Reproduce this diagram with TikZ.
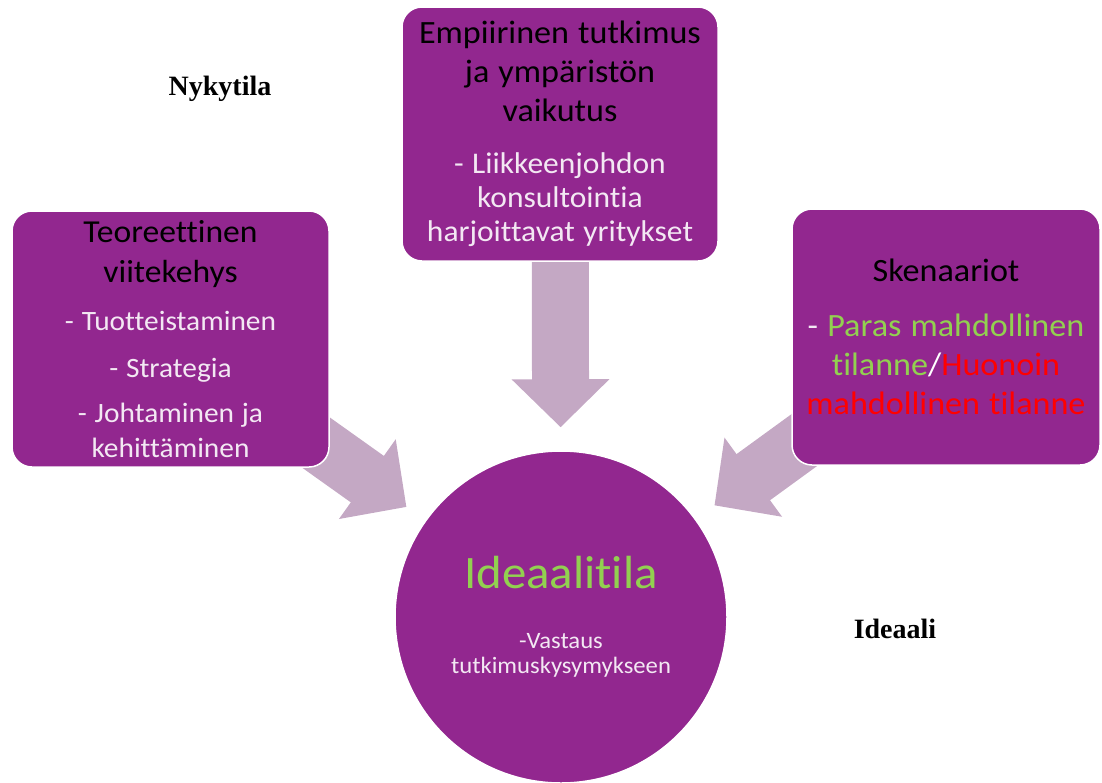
\documentclass[tikz,border=0pt]{standalone}
\usepackage{fontspec}
\setmainfont{Carlito}[FakeStretch=1.05,Ligatures=NoCommon]
\newfontfamily\notefont{Liberation Serif}
\usetikzlibrary{arrows.meta,backgrounds}
\definecolor{boxpurple}{RGB}{146,39,143}
\definecolor{arrowpink}{RGB}{196,168,196}
\definecolor{goodgreen}{RGB}{146,208,80}
\definecolor{badred}{RGB}{255,0,0}
\definecolor{paletext}{RGB}{243,232,243}
\newcommand{\fsize}[2]{\fontsize{#1}{#2}\selectfont\spaceskip=0.28em\relax}

\begin{document}
\begin{tikzpicture}[x=1pt,y=-1pt,
  box/.style={fill=boxpurple,draw=white,line width=1.5pt,rounded corners=20pt,
    align=center,inner sep=0pt,minimum height=256pt},
  fat/.style={arrowpink,line width=57pt,-{Triangle[width=95pt 0 0,length=48pt 0 0]},shorten >=23pt},
  sidenote/.style={font=\notefont\bfseries\fsize{28}{32},anchor=base}]
  \useasboundingbox (0,0) rectangle (1102,782);
  \node[box,minimum height=254pt,text width=316pt] (emp) at (560,134)
    {\fsize{32.5}{39}Empiirinen tutkimus\\ja ympäristön\\vaikutus\\[18pt]
     \color{paletext}\fsize{30}{34}- Liikkeenjohdon\\konsultointia\\harjoittavat yritykset\par};
  \node[box,text width=317pt] (teo) at (170.5,339)
    {\fsize{32}{40}Teoreettinen\\viitekehys\\[13pt]
     \color{paletext}\fsize{28}{35}- Tuotteistaminen\\[12pt]- Strategia\\[10pt]- Johtaminen ja\\kehittäminen\par};
  \node[box,text width=308pt] (sken) at (946,337)
    {\fsize{32.5}{40}Skenaariot\\[16pt]
     \fsize{32.5}{39}\textcolor{paletext}{- }\textcolor{goodgreen}{Paras mahdollinen}\\
     \textcolor{goodgreen}{tilanne}\textcolor{white}{/}\textcolor{badred}{Huonoin}\\
     \textcolor{badred}{mahdollinen tilanne}\par};
  \node[circle,fill=boxpurple,draw=white,line width=1.5pt,minimum size=332pt,
    inner sep=0pt,text width=250pt,align=center] (idea) at (561,617)
    {\color{goodgreen}\fsize{46.5}{56}Ideaalitila\\[35pt]
     \color{paletext}\fsize{23.5}{25}-Vastaus\\tutkimuskysymykseen\par};
  \node[sidenote] (nyky) at (220,95) {Nykytila};
  \node[sidenote] (ideaali) at (895,638) {Ideaali};
  \begin{scope}[on background layer]
    \draw[fat] (emp.center) -- (idea);
    \draw[fat] (teo.center) -- (idea);
    \draw[fat] (sken.center) -- (idea);
  \end{scope}
\end{tikzpicture}
\end{document}
